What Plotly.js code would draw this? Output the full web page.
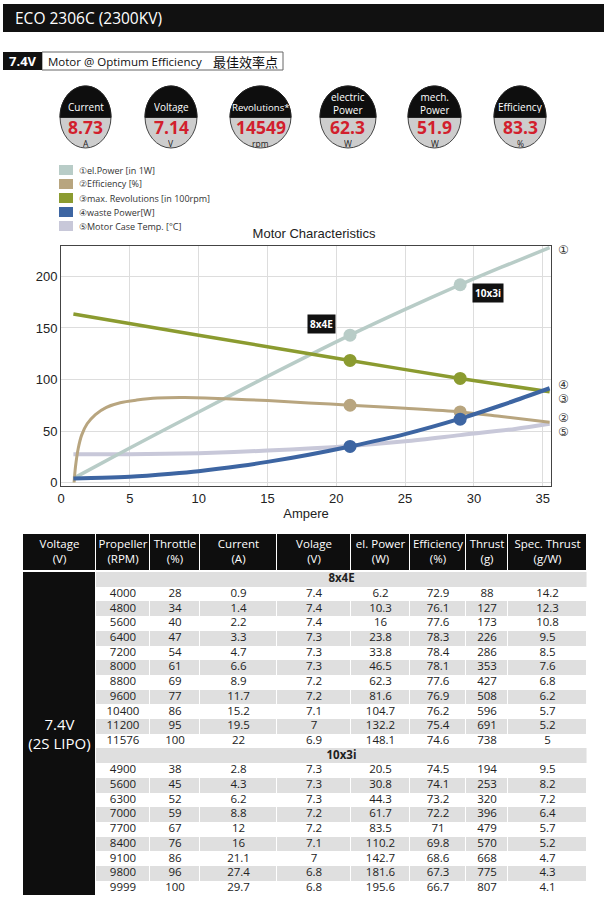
<!DOCTYPE html>
<html><head><meta charset="utf-8">
<script src="https://cdn.plot.ly/plotly-3.0.1.min.js"></script>
<style>html,body{margin:0;padding:0;background:#fff;}#chart{width:608px;height:904px;}</style>
</head><body><div id="chart"></div>
<script>
// ---------- DATA ----------
const pageTitle = 'ECO 2306C (2300KV)';
const voltTag = '7.4V';
const subTitleEn = 'Motor @ Optimum Efficiency';
const subTitleZh = '最佳效率点';

const gaugeLabels = ['Current', 'Voltage', 'Revolutions*', 'electric<br>Power', 'mech.<br>Power', 'Efficiency'];
const gaugeValues = ['8.73', '7.14', '14549', '62.3', '51.9', '83.3'];
const gaugeUnits = ['A', 'V', 'rpm', 'W', 'W', '%'];

const seriesNames = ['①el.Power [in 1W]', '②Efficiency [%]', '③max. Revolutions [in 100rpm]', '④waste Power[W]', '⑤Motor Case Temp. [°C]'];
const seriesTags = ['①', '②', '③', '④', '⑤'];
const chartTitle = 'Motor Characteristics';
const xTitle = 'Ampere';

const elPowerX = [0.9, 5, 10, 15, 21, 25, 29, 32, 35.5];
const elPowerY = [4, 33.5, 68.5, 103, 143, 168, 192, 209, 228];
const effX = [0.95, 1.05, 1.25, 1.5, 1.9, 2.5, 3.3, 4.3, 5.5, 7, 9, 12, 15, 18, 21, 25, 29, 32, 35.5];
const effY = [0, 15, 33, 46, 57, 66, 73, 77.5, 80, 82, 82.5, 81.3, 79.5, 77.3, 75, 72, 68.5, 64, 58.5];
const revX = [0.9, 10, 21, 29, 35.5];
const revY = [163.5, 143, 118.5, 101, 88];
const wasteX = [0.9, 3, 5, 8, 10, 13, 15, 18, 21, 25, 29, 32, 35.5];
const wasteY = [4, 4.5, 5.5, 8.5, 11, 16, 20, 27, 35, 47, 62, 75, 91.5];
const tempX = [0.9, 5, 10, 15, 21, 25, 29, 33, 35.5];
const tempY = [27.5, 27.5, 28.5, 31, 35.5, 40, 46, 52, 57];

const markerX = [21, 29];
const elPowerMk = [143, 192];
const effMk = [75, 68.5];
const revMk = [118.5, 101];
const wasteMk = [35, 61.5];
const propLabels = ['8x4E', '10x3i'];

// table
const tableHeaders = ['Voltage<br>(V)', 'Propeller<br>(RPM)', 'Throttle<br>(%)', 'Current<br>(A)', 'Volage<br>(V)', 'el. Power<br>(W)', 'Efficiency<br>(%)', 'Thrust<br>(g)', 'Spec. Thrust<br>(g/W)'];
const batteryLabel = '7.4V<br>(2S LIPO)';
const groupNames = ['8x4E', '10x3i'];
const groupSizes = [11, 9];
const colRPM = [4000, 4800, 5600, 6400, 7200, 8000, 8800, 9600, 10400, 11200, 11576, 4900, 5600, 6300, 7000, 7700, 8400, 9100, 9800, 9999];
const colThrottle = [28, 34, 40, 47, 54, 61, 69, 77, 86, 95, 100, 38, 45, 52, 59, 67, 76, 86, 96, 100];
const colCurrent = [0.9, 1.4, 2.2, 3.3, 4.7, 6.6, 8.9, 11.7, 15.2, 19.5, 22, 2.8, 4.3, 6.2, 8.8, 12, 16, 21.1, 27.4, 29.7];
const colVoltage = [7.4, 7.4, 7.4, 7.3, 7.3, 7.3, 7.2, 7.2, 7.1, 7, 6.9, 7.3, 7.3, 7.3, 7.2, 7.2, 7.1, 7, 6.8, 6.8];
const colPower = [6.2, 10.3, 16, 23.8, 33.8, 46.5, 62.3, 81.6, 104.7, 132.2, 148.1, 20.5, 30.8, 44.3, 61.7, 83.5, 110.2, 142.7, 181.6, 195.6];
const colEff = [72.9, 76.1, 77.6, 78.3, 78.4, 78.1, 77.6, 76.9, 76.2, 75.4, 74.6, 74.5, 74.1, 73.2, 72.2, 71, 69.8, 68.6, 67.3, 66.7];
const colThrust = [88, 127, 173, 226, 286, 353, 427, 508, 596, 691, 738, 194, 253, 320, 396, 479, 570, 668, 775, 807];
const colSpec = [14.2, 12.3, 10.8, 9.5, 8.5, 7.6, 6.8, 6.2, 5.7, 5.2, 5, 9.5, 8.2, 7.2, 6.4, 5.7, 5.2, 4.7, 4.3, 4.1];

// ---------- LAYOUT HELPERS ----------
const W = 608, H = 904;
const px = x => x / W, py = y => 1 - y / H;
const FONT = 'Open Sans, Noto Sans, sans-serif';
const AFONT = 'Liberation Sans, Arial, sans-serif';
const colors = ['#b8ccc7', '#b8a57f', '#8b9b30', '#3d65a2', '#c8c8d9'];

const shapes = [], annotations = [];

// header bar
shapes.push({type: 'rect', xref: 'paper', yref: 'paper', x0: px(3), x1: px(604), y0: py(32), y1: py(4), fillcolor: '#111', line: {width: 0}});
annotations.push({xref: 'paper', yref: 'paper', x: px(13), y: py(18), xanchor: 'left', yanchor: 'middle', text: pageTitle, showarrow: false, font: {family: FONT, size: 15.5, color: '#fff'}});
// tag
shapes.push({type: 'rect', xref: 'paper', yref: 'paper', x0: px(42), x1: px(283), y0: py(70), y1: py(52), fillcolor: '#fff', line: {width: 1, color: '#666'}});
shapes.push({type: 'rect', xref: 'paper', yref: 'paper', x0: px(3), x1: px(42), y0: py(70), y1: py(52), fillcolor: '#111', line: {width: 0}});
annotations.push({xref: 'paper', yref: 'paper', x: px(22.5), y: py(61), xanchor: 'center', yanchor: 'middle', text: '<b>' + voltTag + '</b>', showarrow: false, font: {family: FONT, size: 13, color: '#fff'}});
annotations.push({xref: 'paper', yref: 'paper', x: px(46), y: py(61), xanchor: 'left', yanchor: 'middle', text: subTitleEn, showarrow: false, font: {family: FONT, size: 11.5, color: '#111'}});
annotations.push({xref: 'paper', yref: 'paper', x: px(211), y: py(61), xanchor: 'left', yanchor: 'middle', text: subTitleZh, showarrow: false, font: {family: 'Noto Sans CJK SC, sans-serif', size: 13, color: '#111'}});

// gauges
const gx0 = [60, 145, 230, 320, 408, 494], gx1 = [111, 197, 291, 376, 461, 546];
const gTop = 86, gBot = 148;
for (let i = 0; i < gaugeLabels.length; i++) {
  const cx = (gx0[i] + gx1[i]) / 2, rx = (gx1[i] - gx0[i]) / 2;
  const cy = (gTop + gBot) / 2, ry = (gBot - gTop) / 2;
  shapes.push({type: 'circle', xref: 'paper', yref: 'paper', x0: px(gx0[i]), x1: px(gx1[i]), y0: py(gBot), y1: py(gTop), fillcolor: '#cdcdcd', line: {width: 1, color: '#444'}});
  const yb = cy + 0.5;
  const t0 = Math.asin((cy - yb) / ry);
  let path = '';
  const N = 48;
  for (let k = 0; k <= N; k++) {
    const t = t0 + (Math.PI - 2 * t0) * k / N;
    const X = cx + rx * Math.cos(t), Y = cy - ry * Math.sin(t);
    path += (k === 0 ? 'M' : 'L') + px(X).toFixed(5) + ',' + py(Y).toFixed(5);
  }
  path += 'Z';
  shapes.push({type: 'path', xref: 'paper', yref: 'paper', path: path, fillcolor: '#0e0e0e', line: {width: 1, color: '#222'}});
  const twoLine = gaugeLabels[i].indexOf('<br>') >= 0;
  annotations.push({xref: 'paper', yref: 'paper', x: px(cx), y: py(twoLine ? 103.5 : 107.5), xanchor: 'center', yanchor: 'middle', text: gaugeLabels[i], showarrow: false, borderpad: 0, borderwidth: 0, height: twoLine ? 23 : 12, font: {family: FONT, size: i === 2 ? 9.6 : 10, color: '#fff'}});
  annotations.push({xref: 'paper', yref: 'paper', x: px(cx), y: py(126.5), xanchor: 'center', yanchor: 'middle', text: '<b>' + gaugeValues[i] + '</b>', showarrow: false, borderpad: 0, borderwidth: 0, height: 15, font: {family: FONT, size: 17.5, color: '#d21f2d'}});
  annotations.push({xref: 'paper', yref: 'paper', x: px(cx), y: py(142.8), xanchor: 'center', yanchor: 'middle', text: gaugeUnits[i], showarrow: false, borderpad: 0, borderwidth: 0, height: 8, font: {family: FONT, size: 8.5, color: '#222'}});
}

// legend
const legY = [170, 184, 198, 212, 226];
for (let i = 0; i < seriesNames.length; i++) {
  shapes.push({type: 'rect', xref: 'paper', yref: 'paper', x0: px(59), x1: px(73), y0: py(legY[i] + 5), y1: py(legY[i] - 5), fillcolor: colors[i], line: {width: 0}});
  annotations.push({xref: 'paper', yref: 'paper', x: px(77), y: py(legY[i]), xanchor: 'left', yanchor: 'middle', text: seriesNames[i], showarrow: false, font: {family: FONT, size: 9, color: '#333'}});
}

// right-side series tags
const tagY = [249, 417.5, 398.5, 384.5, 431];
for (let i = 0; i < seriesTags.length; i++) {
  annotations.push({xref: 'paper', yref: 'paper', x: px(563), y: py(tagY[i]), xanchor: 'center', yanchor: 'middle', text: seriesTags[i], showarrow: false, borderpad: 0, borderwidth: 0, height: 11, font: {family: 'DejaVu Sans, sans-serif', size: 12, color: '#333'}});
}

// prop labels on chart
annotations.push({xref: 'x', yref: 'y', x: 18.9, y: 153.5, text: '<b>' + propLabels[0] + '</b>', showarrow: false, bgcolor: '#111', borderpad: 2, font: {family: FONT, size: 10, color: '#fff'}});
annotations.push({xref: 'x', yref: 'y', x: 31.0, y: 183.5, text: '<b>' + propLabels[1] + '</b>', showarrow: false, bgcolor: '#111', borderpad: 2, font: {family: FONT, size: 10, color: '#fff'}});

// ---------- TABLE (drawn on its own hidden axes x2/y2, units = page pixels) ----------
const numCols = [colRPM, colThrottle, colCurrent, colVoltage, colPower, colEff, colThrust, colSpec];
const colW = [73, 54, 50, 77, 74, 59, 56, 42, 79];
const tLeft = 23;
const colEdges = [tLeft];
colW.forEach(w => colEdges.push(colEdges[colEdges.length - 1] + w));
const tRight = colEdges[colEdges.length - 1];
const colMid = colW.map((w, i) => colEdges[i] + w / 2);
const tTop = 534, headH = 36, gapH = 2, rowH = 14.7;

// row structure
const rowEdges = [tTop, tTop + headH, tTop + headH + gapH];
const zMain = [colW.map(() => 2), colW.map(() => 0)];
const zGroup = [[null], [null]];
const rowKinds = [];
let k = 0;
for (let g = 0; g < groupNames.length; g++) {
  rowKinds.push({kind: 'group', g: g});
  for (let i = 0; i < groupSizes[g]; i++) rowKinds.push({kind: 'data', i: i, idx: k++});
}
rowKinds.forEach(rk => {
  rowEdges.push(rowEdges[rowEdges.length - 1] + rowH);
  if (rk.kind === 'group') { zMain.push([2].concat(numCols.map(() => 1))); zGroup.push([1]); }
  else { zMain.push([2].concat(numCols.map(() => (rk.i % 2 ? 1 : 0)))); zGroup.push([null]); }
});
const tBot = rowEdges[rowEdges.length - 1] + 1;
const rowMid = i => (rowEdges[i] + rowEdges[i + 1]) / 2;

const cScale = [[0, '#ffffff'], [0.33, '#ffffff'], [0.34, '#dfdfdf'], [0.66, '#dfdfdf'], [0.67, '#0e0e0e'], [1, '#0e0e0e']];
const heatMain = {type: 'heatmap', x: colEdges, y: rowEdges, z: zMain, zmin: 0, zmax: 2, colorscale: cScale, showscale: false, xgap: 1, ygap: 0, hoverinfo: 'skip', xaxis: 'x2', yaxis: 'y2'};
const heatGroup = {type: 'heatmap', x: [colEdges[1] + 0.5, tRight - 0.5], y: rowEdges, z: zGroup, zmin: 0, zmax: 2, colorscale: cScale, showscale: false, hoverinfo: 'skip', xaxis: 'x2', yaxis: 'y2'};

// texts
const hdrText = {type: 'scatter', mode: 'text', x: colMid, y: colMid.map(() => tTop + headH / 2 + 0.5), text: tableHeaders,
  textposition: 'middle center', textfont: {family: FONT, size: 11.5, color: '#fff'}, hoverinfo: 'skip', showlegend: false, xaxis: 'x2', yaxis: 'y2'};
const cx = [], cy = [], ct = [], gx = [], gy = [], gt = [];
rowKinds.forEach((rk, ri) => {
  const y = rowMid(ri + 2);
  if (rk.kind === 'group') { gx.push((colEdges[1] + tRight) / 2); gy.push(y); gt.push('<b>' + groupNames[rk.g] + '</b>'); }
  else numCols.forEach((col, c) => { cx.push(colMid[c + 1]); cy.push(y); ct.push(String(col[rk.idx])); });
});
const cellText = {type: 'scatter', mode: 'text', x: cx, y: cy, text: ct, textposition: 'middle center', textfont: {family: FONT, size: 11.5, color: '#222'}, hoverinfo: 'skip', showlegend: false, xaxis: 'x2', yaxis: 'y2'};
const groupText = {type: 'scatter', mode: 'text', x: gx, y: gy, text: gt, textposition: 'middle center', textfont: {family: FONT, size: 11.5, color: '#222'}, hoverinfo: 'skip', showlegend: false, xaxis: 'x2', yaxis: 'y2'};
const battText = {type: 'scatter', mode: 'text', x: [colMid[0]], y: [(rowEdges[2] + rowEdges[rowEdges.length - 1]) / 2 + 2], text: [batteryLabel], textposition: 'middle center', textfont: {family: FONT, size: 15, color: '#fff'}, hoverinfo: 'skip', showlegend: false, xaxis: 'x2', yaxis: 'y2'};

// ---------- CHART TRACES ----------
function line(x, y, color, w) { return {type: 'scatter', mode: 'lines', x: x, y: y, line: {color: color, width: w, shape: 'spline', smoothing: 0.8}, hoverinfo: 'skip', showlegend: false, xaxis: 'x', yaxis: 'y'}; }
function marks(y, color) { return {type: 'scatter', mode: 'markers', x: markerX, y: y, marker: {color: color, size: 13}, hoverinfo: 'skip', showlegend: false, xaxis: 'x', yaxis: 'y'}; }

const data = [
  line(tempX, tempY, colors[4], 4),
  line(elPowerX, elPowerY, colors[0], 3.5),
  line(effX, effY, colors[1], 3),
  line(revX, revY, colors[2], 3.5),
  line(wasteX, wasteY, colors[3], 4),
  marks(elPowerMk, colors[0]),
  marks(effMk, colors[1]),
  marks(revMk, colors[2]),
  marks(wasteMk, colors[3]),
  heatMain, heatGroup, hdrText, cellText, groupText, battText
];

const layout = {
  width: W, height: H,
  margin: {l: 0, r: 0, t: 0, b: 0},
  paper_bgcolor: '#fff', plot_bgcolor: 'rgba(0,0,0,0)',
  showlegend: false,
  title: {text: chartTitle, x: px(314), y: py(233), xanchor: 'center', yanchor: 'middle', font: {family: AFONT, size: 13, color: '#222'}},
  xaxis: {domain: [px(61), px(551)], range: [0, 35.6], tickvals: [0, 5, 10, 15, 20, 25, 30, 35],
    showgrid: true, gridcolor: '#dddddd', zeroline: false, showline: true, linecolor: '#444', linewidth: 1, mirror: true,
    ticks: '', tickfont: {family: AFONT, size: 13, color: '#222'},
    title: {text: xTitle, font: {family: AFONT, size: 13, color: '#222'}, standoff: 4}},
  yaxis: {domain: [py(486), py(246)], range: [-3.4, 229.6], tickvals: [0, 50, 100, 150, 200],
    showgrid: true, gridcolor: '#dddddd', zeroline: false, showline: true, linecolor: '#444', linewidth: 1, mirror: true,
    ticks: '', tickfont: {family: AFONT, size: 13, color: '#222'}},
  xaxis2: {domain: [px(tLeft), px(tRight)], range: [tLeft, tRight], visible: false, anchor: 'y2', fixedrange: true},
  yaxis2: {domain: [py(tBot), py(tTop)], range: [tBot, tTop], visible: false, anchor: 'x2', fixedrange: true},
  shapes: shapes,
  annotations: annotations
};

Plotly.newPlot('chart', data, layout, {displayModeBar: false, staticPlot: true});
</script></body></html>
